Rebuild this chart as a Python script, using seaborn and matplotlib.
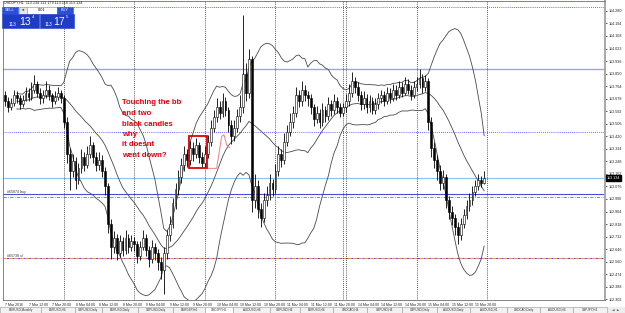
# %% libraries
import matplotlib
matplotlib.use('Agg')
import matplotlib.pyplot as plt
import matplotlib.patches as mpatches
import matplotlib.transforms as mtransforms
import numpy as np
import pandas as pd
import seaborn as sns

# %% data (USDJPY H1)
opens = [
    113.70, 113.66, 113.62, 113.65, 113.70, 113.68, 113.64, 113.67, 113.72, 113.69,
    113.74, 113.78, 113.72, 113.68, 113.70, 113.74, 113.70, 113.66, 113.69, 113.72,
    113.68, 113.52, 113.30, 113.18, 113.25, 113.12, 113.20, 113.28, 113.22, 113.30,
    113.36, 113.28, 113.22, 113.26, 113.18, 113.08, 112.82, 112.66, 112.72, 112.62,
    112.70, 112.64, 112.72, 112.66, 112.70, 112.68, 112.60, 112.66, 112.72, 112.64,
    112.58, 112.66, 112.62, 112.56, 112.50, 112.62, 112.74, 112.82, 112.96, 113.06,
    113.14, 113.22, 113.30, 113.26, 113.34, 113.30, 113.36, 113.28, 113.24, 113.30,
    113.38, 113.48, 113.55, 113.62, 113.58, 113.66, 113.60, 113.50, 113.42, 113.48,
    113.56, 113.62, 113.85, 113.72, 113.95, 112.98, 113.08, 112.92, 112.86, 112.98,
    113.02, 113.10, 113.06, 113.18, 113.30, 113.26, 113.38, 113.45, 113.52, 113.58,
    113.70, 113.66, 113.74, 113.70, 113.68, 113.62, 113.54, 113.58, 113.52, 113.60,
    113.56, 113.64, 113.60, 113.66, 113.62, 113.58, 113.62, 113.66, 113.72, 113.80,
    113.76, 113.70, 113.64, 113.68, 113.62, 113.66, 113.60, 113.64, 113.68, 113.70,
    113.66, 113.72, 113.68, 113.74, 113.70, 113.76, 113.72, 113.78, 113.74, 113.70,
    113.76, 113.78, 113.82, 113.76, 113.80, 113.52, 113.34, 113.26, 113.18, 113.10,
    113.14, 112.98, 112.90, 112.86, 112.80, 112.74, 112.82, 112.88, 112.94, 112.98,
    113.04, 113.08, 113.12, 113.10,
]
highs = [
    113.73, 113.69, 113.68, 113.74, 113.73, 113.70, 113.70, 113.76, 113.75, 113.79,
    113.84, 113.80, 113.75, 113.74, 113.80, 113.77, 113.72, 113.73, 113.76, 113.74,
    113.70, 113.55, 113.34, 113.30, 113.28, 113.24, 113.33, 113.31, 113.35, 113.42,
    113.38, 113.31, 113.31, 113.29, 113.21, 113.10, 112.85, 112.77, 112.75, 112.74,
    112.73, 112.78, 112.75, 112.74, 112.73, 112.70, 112.70, 112.78, 112.75, 112.67,
    112.71, 112.69, 112.65, 112.59, 112.66, 112.78, 112.87, 113.00, 113.10, 113.19,
    113.27, 113.35, 113.33, 113.39, 113.38, 113.41, 113.38, 113.31, 113.35, 113.43,
    113.53, 113.60, 113.68, 113.66, 113.72, 113.69, 113.62, 113.53, 113.53, 113.61,
    113.70, 114.25, 113.92, 114.02, 113.97, 113.16, 113.12, 112.96, 113.03, 113.08,
    113.16, 113.13, 113.23, 113.35, 113.33, 113.44, 113.50, 113.58, 113.63, 113.76,
    113.74, 113.80, 113.77, 113.73, 113.71, 113.64, 113.63, 113.61, 113.65, 113.63,
    113.69, 113.67, 113.71, 113.69, 113.65, 113.65, 113.71, 113.78, 113.86, 113.83,
    113.79, 113.73, 113.73, 113.71, 113.70, 113.69, 113.68, 113.72, 113.74, 113.73,
    113.76, 113.75, 113.78, 113.77, 113.80, 113.79, 113.83, 113.81, 113.77, 113.80,
    113.83, 113.88, 113.85, 113.84, 113.82, 113.55, 113.38, 113.29, 113.22, 113.19,
    113.16, 113.01, 112.94, 112.89, 112.83, 112.86, 112.92, 112.98, 113.03, 113.08,
    113.12, 113.16, 113.15, 113.18,
]
lows = [
    113.63, 113.59, 113.60, 113.63, 113.65, 113.61, 113.62, 113.66, 113.66, 113.67,
    113.72, 113.69, 113.64, 113.65, 113.68, 113.67, 113.62, 113.64, 113.67, 113.65,
    113.48, 113.24, 113.05, 113.14, 113.06, 113.09, 113.17, 113.18, 113.20, 113.27,
    113.24, 113.18, 113.19, 113.14, 113.02, 112.76, 112.58, 112.62, 112.57, 112.59,
    112.60, 112.61, 112.62, 112.63, 112.63, 112.55, 112.57, 112.64, 112.60, 112.52,
    112.55, 112.57, 112.50, 112.44, 112.34, 112.58, 112.70, 112.79, 112.92, 113.02,
    113.10, 113.18, 113.21, 113.22, 113.25, 113.27, 113.24, 113.20, 113.21, 113.27,
    113.35, 113.45, 113.52, 113.54, 113.55, 113.56, 113.45, 113.37, 113.39, 113.45,
    113.52, 113.58, 113.66, 113.68, 112.90, 112.93, 112.86, 112.80, 112.83, 112.94,
    112.98, 113.01, 113.03, 113.15, 113.21, 113.23, 113.35, 113.42, 113.48, 113.55,
    113.62, 113.63, 113.66, 113.63, 113.57, 113.49, 113.51, 113.48, 113.49, 113.52,
    113.53, 113.56, 113.57, 113.58, 113.55, 113.56, 113.59, 113.63, 113.69, 113.72,
    113.66, 113.60, 113.61, 113.58, 113.59, 113.57, 113.57, 113.61, 113.65, 113.63,
    113.64, 113.65, 113.66, 113.67, 113.68, 113.69, 113.70, 113.71, 113.67, 113.68,
    113.73, 113.75, 113.72, 113.73, 113.46, 113.28, 113.20, 113.12, 113.05, 113.06,
    112.93, 112.85, 112.81, 112.74, 112.68, 112.71, 112.79, 112.85, 112.91, 112.95,
    113.01, 113.05, 113.07, 113.09,
]
closes = [
    113.66, 113.62, 113.65, 113.70, 113.68, 113.64, 113.67, 113.72, 113.69, 113.74,
    113.78, 113.72, 113.68, 113.70, 113.74, 113.70, 113.66, 113.69, 113.72, 113.68,
    113.52, 113.30, 113.18, 113.25, 113.12, 113.20, 113.28, 113.22, 113.30, 113.36,
    113.28, 113.22, 113.26, 113.18, 113.08, 112.82, 112.66, 112.72, 112.62, 112.70,
    112.64, 112.72, 112.66, 112.70, 112.68, 112.60, 112.66, 112.72, 112.64, 112.58,
    112.66, 112.62, 112.56, 112.50, 112.62, 112.74, 112.82, 112.96, 113.06, 113.14,
    113.22, 113.30, 113.26, 113.34, 113.30, 113.36, 113.28, 113.24, 113.30, 113.38,
    113.48, 113.55, 113.62, 113.58, 113.66, 113.60, 113.50, 113.42, 113.48, 113.56,
    113.62, 113.85, 113.72, 113.95, 112.98, 113.08, 112.92, 112.86, 112.98, 113.02,
    113.10, 113.06, 113.18, 113.30, 113.26, 113.38, 113.45, 113.52, 113.58, 113.70,
    113.66, 113.74, 113.70, 113.68, 113.62, 113.54, 113.58, 113.52, 113.60, 113.56,
    113.64, 113.60, 113.66, 113.62, 113.58, 113.62, 113.66, 113.72, 113.80, 113.76,
    113.70, 113.64, 113.68, 113.62, 113.66, 113.60, 113.64, 113.68, 113.70, 113.66,
    113.72, 113.68, 113.74, 113.70, 113.76, 113.72, 113.78, 113.74, 113.70, 113.76,
    113.78, 113.82, 113.76, 113.80, 113.52, 113.34, 113.26, 113.18, 113.10, 113.14,
    112.98, 112.90, 112.86, 112.80, 112.74, 112.82, 112.88, 112.94, 112.98, 113.04,
    113.08, 113.12, 113.10, 113.134,
]

# pink indicator fragment next to the marked candles
pink_bars = [69, 72, 73.7, 74.5, 75.4, 76.5]
pink_prices = [113.20, 113.20, 113.42, 113.43, 113.36, 113.34]

# horizontal levels on the chart
dotted_levels = [114.307, 113.449]
pale_level = 113.882
bid_price = 113.134
order_level = 113.024
tp_level = 113.004
sl_level = 112.585

# day separators (bar index)
separators = [20, 44, 68, 92, 115, 116, 140, 164]

# marked area
box_bars = (62.6, 68.6)
box_prices = (113.20, 113.42)

price_ticks = [114.280, 114.194, 114.108, 114.022, 113.936, 113.850, 113.764, 113.678,
               113.592, 113.506, 113.420, 113.334, 113.248, 113.162, 113.076, 112.990,
               112.904, 112.818, 112.732, 112.646, 112.560, 112.474, 112.388, 112.302]

time_bars = [0, 8, 16, 24, 32, 40, 48, 56, 64, 72, 80, 88, 96, 104, 112, 120, 128,
             136, 144, 152, 160]
time_labels = ['7 Mar 2016', '7 Mar 12:00', '7 Mar 20:00', '8 Mar 04:00', '8 Mar 12:00',
               '8 Mar 20:00', '9 Mar 04:00', '9 Mar 12:00', '9 Mar 20:00', '10 Mar 04:00',
               '10 Mar 12:00', '10 Mar 20:00', '11 Mar 04:00', '11 Mar 12:00',
               '11 Mar 20:00', '14 Mar 04:00', '14 Mar 12:00', '14 Mar 20:00',
               '15 Mar 04:00', '15 Mar 12:00', '15 Mar 20:00']

tab_names = ['EURUSD,Monthly', 'EURUSD,H4', 'GBPUSD,Daily', 'EURUSD,Daily', 'GBPUSD,Daily',
             'EURGBP,H4', 'USDJPY,H1', 'AUDUSD,H4', 'GBPUSD,H4', 'EURUSD,H4', 'USDCAD,H4',
             'GBPUSD,H4', 'GBPUSD,Daily', 'AUDUSD,Daily', 'AUDUSD,H1', 'USDCAD,Daily',
             'AUDUSD,H4', 'GBPJPY,H4']
tab_edges = [0, 41, 75, 102, 138, 173, 205, 233, 270, 300, 333, 367, 402, 437, 470, 507,
             540, 573, 607]

note = 'Touching the bb\nand two\nblack candles\nwhy\nit doesnt\nwent down?'

# %% frame
sns.set_style('white')
plt.rcParams['font.family'] = ['Liberation Sans', 'DejaVu Sans']

W, H = 625, 313
fig = plt.figure(figsize=(W / 100, H / 100), dpi=100)
fig.patch.set_facecolor('white')


def fx(x):
    return x / W


def fy(y):
    return 1 - y / H


ax = fig.add_axes([fx(2.5), fy(300), fx(605) - fx(2.5), fy(1) - fy(300)])

# %% candles + bollinger bands
df = pd.DataFrame({'bar': np.arange(len(closes)), 'open': opens, 'high': highs,
                   'low': lows, 'close': closes})
bull = df['close'] >= df['open']
body_lo = df[['open', 'close']].min(axis=1)
body_h = (df['close'] - df['open']).abs().clip(lower=0.004)

ax.vlines(df['bar'], df['low'], df['high'], color='black', lw=0.6, zorder=3)
ax.bar(df['bar'], body_h, bottom=body_lo, width=0.62,
       color=np.where(bull, '#ffffff', '#000000'), edgecolor='black', lw=0.4, zorder=4)

mid = df['close'].rolling(20, min_periods=5).mean()
sd = df['close'].rolling(20, min_periods=5).std(ddof=0)
df['mid'] = mid
df['upper'] = mid + 2 * sd
df['lower'] = mid - 2 * sd
for col in ['upper', 'mid', 'lower']:
    sns.lineplot(data=df, x='bar', y=col, ax=ax, color='#4a4a4a', lw=0.6, zorder=2)

sns.lineplot(x=pink_bars, y=pink_prices, ax=ax, color='#f08080', lw=0.7, zorder=2)

# %% levels & separators
for lv in dotted_levels:
    ax.axhline(lv, color='#3a3aff', lw=0.6, ls=(0, (1, 1.5)), zorder=1)
ax.axhline(pale_level, color='#a0a0f0', lw=1.0, zorder=1)
ax.axhline(bid_price, color='#86c2f5', lw=0.8, zorder=1)
ax.axhline(order_level, color='#4c4cd8', lw=0.8, zorder=1)
ax.axhline(tp_level, color='#45a045', lw=0.6, ls=(0, (4, 1.5, 1, 1.5)), zorder=1)
ax.axhline(sl_level, color='#ff8c40', lw=0.8, ls=(0, (3, 2)), gapcolor='#4060ff', zorder=1)
for s in separators:
    ax.axvline(s, color='#222222', lw=0.6, ls=(0, (1, 1.5)), zorder=1)

blend = mtransforms.blended_transform_factory(ax.transAxes, ax.transData)
ax.text(0.008, order_level, '#65874 buy', transform=blend, fontsize=2.6,
        color='#333333', va='bottom')
ax.text(0.008, sl_level, '#65738 sl', transform=blend, fontsize=2.6,
        color='#333333', va='bottom')

# marked candles
ax.add_patch(mpatches.Rectangle((box_bars[0], box_prices[0]), box_bars[1] - box_bars[0],
                                box_prices[1] - box_prices[0], fill=False,
                                edgecolor='#e00000', lw=1.3, zorder=5))

# %% axes
ax.set_xlim(-0.85, 204.1)
ax.set_ylim(112.297, 114.348)
ax.set_xlabel('')
ax.set_ylabel('')
ax.yaxis.tick_right()
ax.set_yticks(price_ticks)
ax.set_yticklabels(['%.3f' % p for p in price_ticks])
ax.set_xticks(time_bars)
ax.set_xticklabels(time_labels, ha='left')
ax.tick_params(axis='y', labelsize=2.7, length=1.5, width=0.5, pad=1.2, colors='#222222')
ax.tick_params(axis='x', labelsize=2.5, length=1.5, width=0.5, pad=0.6, colors='#222222')
for side, sp in ax.spines.items():
    sp.set_linewidth(0.6)
    sp.set_color('#707070')
ax.spines['right'].set_linewidth(1.4)
ax.spines['right'].set_color('#a8a8a8')

# current price box
ax.text(1.003, bid_price, '%.3f' % bid_price, transform=blend, fontsize=2.7,
        color='white', va='center', ha='left',
        bbox=dict(boxstyle='square,pad=0.15', fc='black', ec='black'))

# question
fig.text(fx(122), fy(99.5), note, color='#e4000c', fontsize=5.6, fontweight='bold',
         va='top', ha='left', linespacing=1.7)

# %% one-click trading panel
fig.text(fx(4), fy(3), 'USDJPY,H1  113.134 113.179 113.118 113.134', fontsize=2.7,
         va='center', ha='left', color='#222222')


def panel_box(x0, y0, x1, y1, fc, ec=None):
    fig.add_artist(mpatches.Rectangle((fx(x0), fy(y1)), fx(x1) - fx(x0), fy(y0) - fy(y1),
                                      transform=fig.transFigure, fc=fc,
                                      ec=ec if ec else fc, lw=0.4))


panel_box(2, 7, 18, 13.5, '#2b4fd6')
panel_box(19, 7, 27, 13.5, '#e6e6e6', '#9a9a9a')
panel_box(27, 7, 57, 13.5, '#ffffff', '#9a9a9a')
panel_box(57, 7, 73, 13.5, '#2b4fd6')
panel_box(2, 14, 39, 28, '#1e3cc4')
panel_box(40, 14, 74, 28, '#1e3cc4')
fig.text(fx(10), fy(10.3), 'SELL', fontsize=2.8, color='white', ha='center', va='center')
fig.text(fx(23), fy(10.3), '\u25bc', fontsize=2.3, color='#555555', ha='center',
         va='center', family='DejaVu Sans')
fig.text(fx(42), fy(10.3), '0.01', fontsize=2.8, color='black', ha='center', va='center')
fig.text(fx(65), fy(10.3), 'BUY', fontsize=2.8, color='white', ha='center', va='center')
fig.text(fx(9), fy(24), '113', fontsize=3.4, color='white', ha='left', va='center')
fig.text(fx(19.3), fy(21.8), '13', fontsize=7.5, color='white', ha='left', va='center')
fig.text(fx(31.6), fy(14.6), '4', fontsize=3.2, color='white', ha='left', va='top')
fig.text(fx(45), fy(24), '113', fontsize=3.4, color='white', ha='left', va='center')
fig.text(fx(53.5), fy(21.8), '17', fontsize=7.5, color='white', ha='left', va='center')
fig.text(fx(65.8), fy(14.6), '5', fontsize=3.2, color='white', ha='left', va='top')

# %% symbol tabs
panel_box(0, 307, 625, 313, '#ececec')
for name, x0, x1 in zip(tab_names, tab_edges[:-1], tab_edges[1:]):
    active = name == 'USDJPY,H1' and x0 == 205
    panel_box(x0, 307, x1, 313, '#ffffff' if active else '#f2f2f2', '#9a9a9a')
    fig.text(fx((x0 + x1) / 2), fy(310), name, fontsize=2.2, color='#333333',
             ha='center', va='center')
fig.text(fx(616), fy(310), '\u25c4  \u25ba', fontsize=2.4, color='#333333',
         ha='center', va='center', family='DejaVu Sans')

# save plot
plt.savefig('out.png', dpi=100)
